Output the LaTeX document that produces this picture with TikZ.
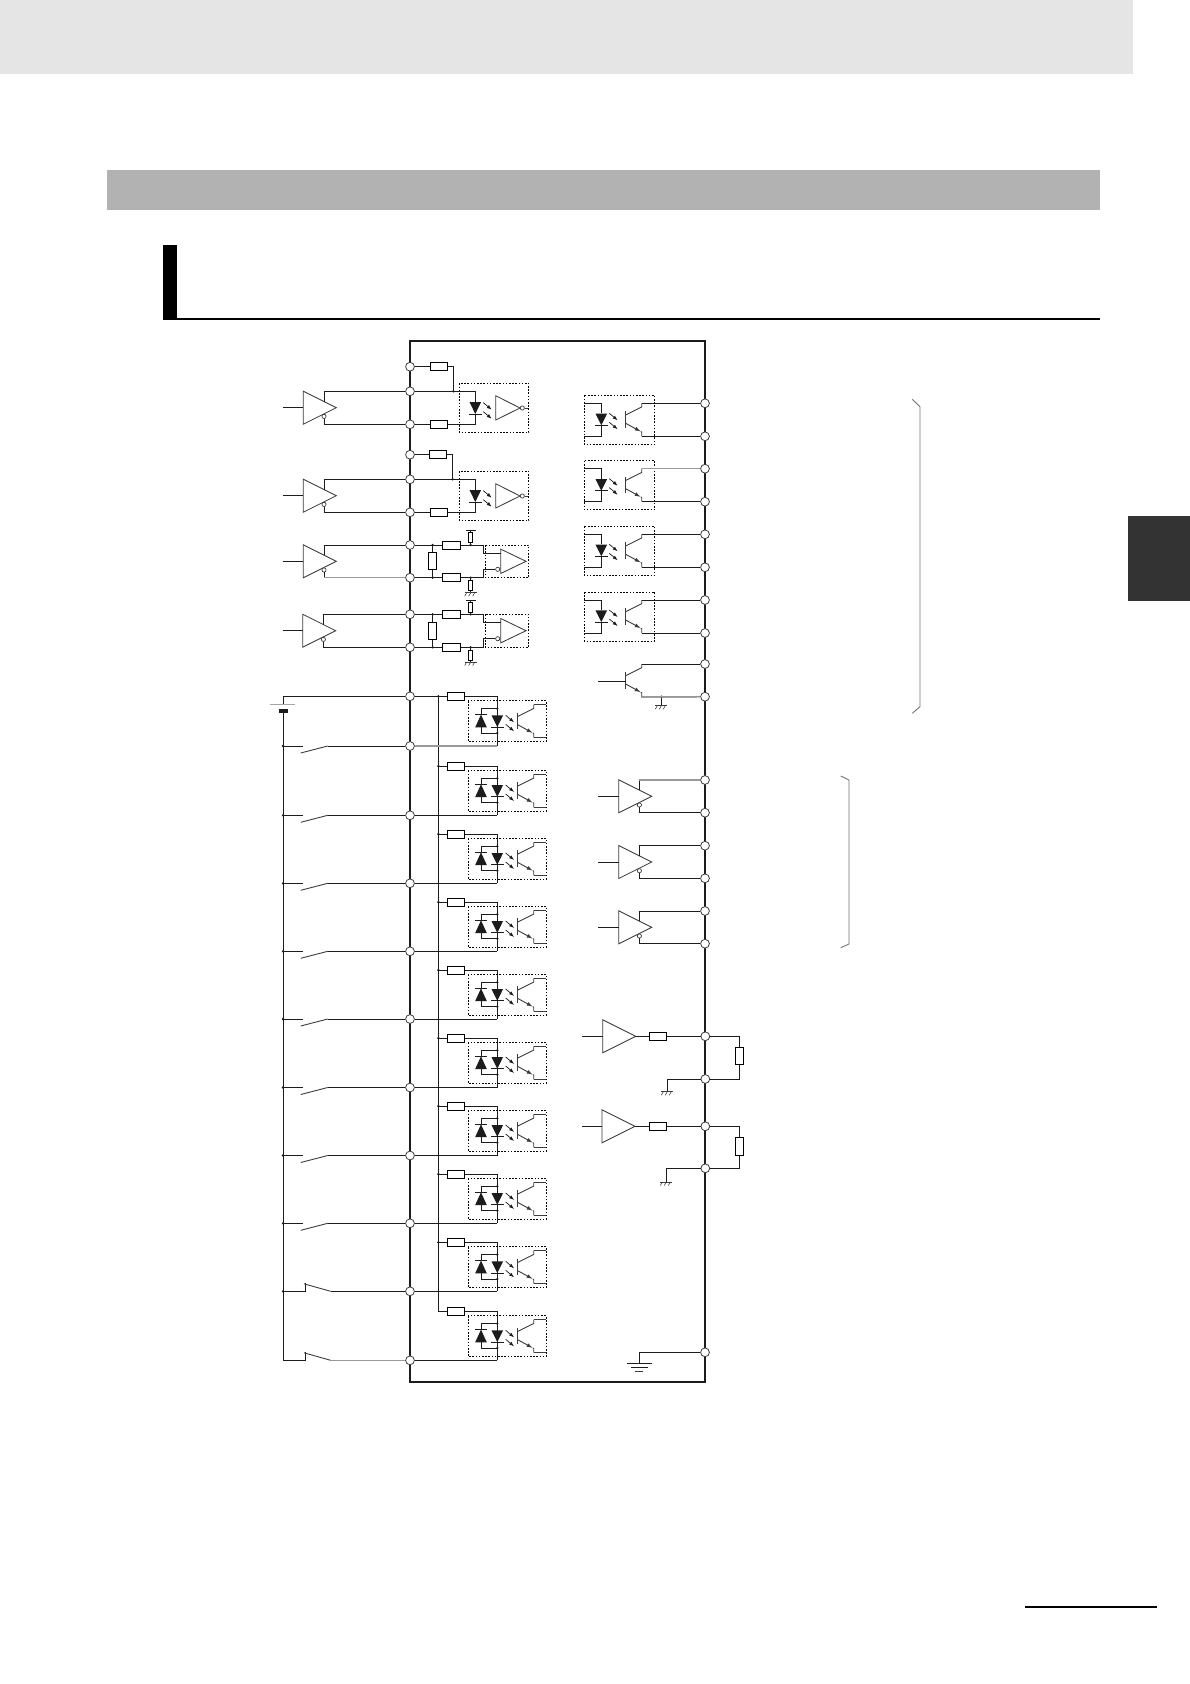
\documentclass[tikz,border=0pt]{standalone}
\usetikzlibrary{arrows.meta}
\definecolor{ink}{HTML}{1C1C1C}
\definecolor{thin}{HTML}{3C3C3C}
\tikzset{
  wire/.style={draw=ink,line width=1pt},
  gwire/.style={draw=black!40,line width=1.5pt},
  frame/.style={draw=ink,line width=2.4pt},
  term/.style={circle,draw=thin,fill=white,inner sep=0pt,minimum size=8.8pt,line width=.8pt},
  res/.style={rectangle,draw=black,fill=white,inner sep=0pt,minimum width=17.4pt,minimum height=8pt,line width=1pt},
  vres/.style={res,minimum width=7.7pt,minimum height=17pt},
  pres/.style={res,minimum width=4.5pt,minimum height=10pt},
  bub/.style={circle,draw=thin,fill=white,inner sep=0pt,minimum size=4.2pt,line width=.7pt},
  tri/.style={draw=thin,fill=white,line width=.85pt},
  opto/.style={draw=black,line width=.9pt,dash pattern=on 1.6pt off 1.6pt},
  dev/.style={draw=thin,line width=.9pt},
  ray/.style={draw=ink,line width=.7pt,-{Latex[length=5pt,width=3.6pt]}},
  brk/.style={draw=black!55,line width=.9pt},
}
\newcommand{\dotat}[2]{\fill[ink] (#1,#2) circle (1.3pt);}
\newcommand{\gndsym}[2]{%
  \draw[dev] (#1-6,#2) -- (#1+6,#2);
  \draw[dev,line width=.6pt] (#1-4,#2) -- (#1-6,#2+3.5) (#1,#2) -- (#1-2,#2+3.5) (#1+4,#2) -- (#1+2,#2+3.5);}
\newcommand{\ledD}[3]{% x, wide end, apex
  \fill[ink] (#1-5.8,#2) -- (#1+5.8,#2) -- (#1,#3) -- cycle;
  \draw[wire] (#1-6.2,#3) -- (#1+6.2,#3);}
\newcommand{\rays}[2]{%
  \draw[ray] (#1,#2) -- (#1+8.4,#2+7);
  \draw[ray] (#1,#2+9) -- (#1+8.4,#2+16);}
\newcommand{\npnsym}[3]{% name, bar x, top y
  \draw[dev] (#2,#3+8) -- (#2,#3+24.5);
  \coordinate (c#1) at (#2+16,#3);
  \coordinate (e#1) at (#2+16,#3+33);
  \draw[dev] (#2,#3+11.7) -- (#2+16,#3+3.7) -- (c#1);
  \draw[dev,-{Latex[length=6pt,width=4pt]}] (#2,#3+20) -- (#2+15,#3+28.2);
  \draw[dev] (#2+15,#3+28.2) -- (#2+16,#3+28.7) -- (e#1);}
\newcommand{\drvsym}[3]{% name, back x, centre y
  \draw[tri] (#2,#3-16.5) -- (#2+33,#3) -- (#2,#3+16.5) -- cycle;
  \coordinate (i#1) at (#2,#3);
  \coordinate (e#1) at (#2+20.7,#3-6.2);
  \node[bub] (b#1) at (#2+20.7,#3+8.7) {};}
\begin{document}
\begin{tikzpicture}[x=1pt,y=-1pt]
\useasboundingbox (0,0) rectangle (1190,1684);
\fill[white] (0,0) rectangle (1190,1684);
% page furniture
\fill[black!10] (0,0) rectangle (1133,73.5);
\fill[black!30] (107,170) rectangle (1100,209.7);
\fill[black] (163,245) rectangle (177,319.7);
\fill[black] (163,317.7) rectangle (1100,319.7);
\fill[black!80] (1128,516) rectangle (1190,601);
\fill[black] (1025,1605.7) rectangle (1157,1607.7);
% enclosure
\draw[frame] (410,341) rectangle (705,1381.7);
% ---------- left terminals, rows 1 and 2 (line receivers)
\foreach \n/\ya/\yb/\yc/\rx/\jx/\dy in {1/366.7/391.3/424.3/439/453.3/0, 2/454.7/479.3/512.3/438/452.7/88}{
  \node[term] (tA\n) at (410,\ya) {};
  \node[term] (tB\n) at (410,\yb) {};
  \node[term] (tC\n) at (410,\yc) {};
  \node[res] (rA\n) at (\rx,\ya) {};
  \node[res] (rC\n) at (439,\yc) {};
  \coordinate (jA\n) at (\jx,\yb);
  \coordinate (jT\n) at (475.3,\yb);
  \coordinate (jK\n) at (475.3,\yc);
  \draw[wire] (tA\n) -- (rA\n);
  \draw[wire] (rA\n) -| (jA\n);
  \draw[wire] (tB\n) -- (jA\n) -- (jT\n) -- (475.3,402+\dy);
  \draw[wire] (tC\n) -- (rC\n);
  \draw[wire] (rC\n) -- (jK\n) -- (475.3,414+\dy);
  \dotat{\jx}{\yb}
  \ledD{475.3}{402+\dy}{414+\dy}
  \rays{483.3}{402.7+\dy}
  \draw[opto] (459.3,383.3+\dy) rectangle (528.7,432.3+\dy);
  \draw[tri] (495.7,395.7+\dy) -- (520,408+\dy) -- (495.7,420+\dy) -- cycle;
  \node[bub] (iv\n) at (522.3,408+\dy) {};
  \coordinate (ivo\n) at (528,408+\dy);
  \draw[dev] (iv\n) -- (ivo\n);
}
% ---------- left terminals, rows 3 and 4 (differential receivers)
\foreach \n/\ya/\yb/\ym/\yu/\yv/\yp/\yg in {3/545/577.7/561.3/537.8/530.3/585.8/592.7, 4/614.3/647.3/630.7/607.5/600.3/655/662}{
  \node[term] (tB\n) at (410,\ya) {};
  \node[term] (tC\n) at (410,\yb) {};
  \node[vres] (sh\n) at (432.7,\ym) {};
  \node[res] (sa\n) at (451.3,\ya) {};
  \node[res] (sb\n) at (451.3,\yb) {};
  \node[pres] (pu\n) at (470.7,\yu) {};
  \node[pres] (pd\n) at (470.7,\yp) {};
  \coordinate (ja\n) at (432.7,\ya);
  \coordinate (jb\n) at (432.7,\yb);
  \coordinate (ju\n) at (470.7,\ya);
  \coordinate (jd\n) at (470.7,\yb);
  \coordinate (cu\n) at (470.7,\yv);
  \coordinate (cd\n) at (470.7,\yg);
  \draw[wire] (tB\n) -- (sa\n);
  \draw[wire] (tC\n) -- (sb\n);
  \draw[wire] (ja\n) -- (sh\n);
  \draw[wire] (jb\n) -- (sh\n);
  \draw[wire] (ju\n) -- (pu\n);
  \draw[wire] (pu\n) -- (cu\n);
  \draw[wire] (jd\n) -- (pd\n);
  \draw[wire] (pd\n) -- (cd\n);
  \draw[wire] (466,\yv) -- (475.7,\yv);
  \gndsym{470.7}{\yg}
  \dotat{432.7}{\ya}\dotat{432.7}{\yb}\dotat{470.7}{\ya}\dotat{470.7}{\yb}
  \draw[opto] (485.3,\ya) rectangle (528.7,\yb);
  \draw[tri] (500.7,\ym-12.2) -- (526,\ym) -- (500.7,\ym+12.2) -- cycle;
  \node[bub] (iv\n) at (497.7,\ym+8) {};
  \draw[wire] (sa\n) -- (483.3,\ya) -- (483.3,\ym-8) -- (500.7,\ym-8);
  \draw[wire] (sb\n) -- (483.3,\yb) -- (483.3,\ym+8) -- (iv\n);
}
% ---------- line drivers on the left
\foreach \n/\bx/\ym in {1/303.3/407.7, 2/303.3/495.7, 3/303.3/561.3, 4/302.7/630.7}{
  \drvsym{dL\n}{\bx}{\ym}
  \coordinate (sdL\n) at (282.7,\ym);
  \draw[wire] (sdL\n) -- (idL\n);
  \draw[wire] (tB\n) -| (edL\n);
  \draw[wire] (tC\n) -| (bdL\n);
}
% ---------- contact inputs
\node[term] (tS0) at (410,696.3) {};
\coordinate (railT) at (283.3,696.3);
\coordinate (batT) at (283.3,704.7);
\coordinate (batB) at (283.3,710.7);
\coordinate (railB) at (283.3,1360.3);
\draw[wire] (tS0) -- (railT) -- (batT);
\draw[black!35,line width=1.5pt] (270.3,704.7) -- (295,704.7);
\draw[ink,line width=4pt] (279,710.7) -- (287.5,710.7);
\draw[wire] (batB) -- (railB);
\coordinate (busT) at (438.3,696.3);
\coordinate (busB) at (438.3,1311.3);
\draw[wire] (tS0) -- (busT) -- (busB);
\foreach \n/\R/\S in {1/696.3/746, 2/766/815.3, 3/834/883.3, 4/902/951.3, 5/970/1019, 6/1038/1087.5, 7/1106/1155.5, 8/1174/1223.3, 9/1242.3/1291.3, 10/1311.3/1360.3}{
  \node[term] (tS\n) at (410,\S) {};
  \node[res] (rI\n) at (456.2,\R) {};
  \coordinate (jI\n) at (438.3,\R);
  \coordinate (jS\n) at (497.3,\S);
  \coordinate (jR\n) at (283.3,\S);
  \draw[wire] (jI\n) -- (rI\n);
  \draw[wire] (rI\n) -| (jS\n);
  \draw[wire] (tS\n) -- (jS\n);
  \draw[opto] (468.3,\R+4.6) rectangle (546.3,\R+45.3);
  \draw[wire] (481,\R+18.3) -- (481,\R+12.3) -- (497.3,\R+12.3);
  \draw[wire] (481,\R+31) -- (481,\R+36.7) -- (497.3,\R+36.7);
  \dotat{497.3}{\R+12.3}\dotat{497.3}{\R+36.7}
  \ledD{481}{\R+31}{\R+18.3}
  \ledD{497.3}{\R+19}{\R+30.7}
  \rays{505.7}{\R+19}
  \npnsym{qI\n}{517.7}{\R+8.4}
  \coordinate (kI\n) at (546.3,\R+8.4);
  \coordinate (mI\n) at (546.3,\R+41.4);
  \draw[dev] (cqI\n) -- (kI\n);
  \draw[dev] (eqI\n) -- (mI\n);
}
\foreach \R in {696.3,766,834,902,970,1038,1106,1174,1242.3}{\dotat{438.3}{\R}}
\foreach \n/\S in {1/746, 2/815.3, 3/883.3, 4/951.3, 5/1019, 6/1087.5, 7/1155.5, 8/1223.3}{
  \coordinate (sA\n) at (327.7,\S);
  \coordinate (sL\n) at (302.7,\S);
  \draw[wire] (jR\n) -- (sL\n);
  \draw[dev] (300.7,\S+7) -- (sA\n);
  \draw[wire] (sA\n) -- (tS\n);
  \dotat{283}{\S}
}
\foreach \n/\S in {9/1291.3, 10/1360.3}{
  \coordinate (sA\n) at (330.7,\S);
  \coordinate (sL\n) at (305,\S);
  \draw[wire] (jR\n) -- (sL\n) -- (305,\S-8);
  \draw[dev] (304,\S-7.5) -- (sA\n);
  \draw[wire] (sA\n) -- (tS\n);
}
\dotat{283}{1291.3}
% ---------- right side opto outputs
\foreach \n/\T/\U in {1/403.3/436.3, 2/468.7/501.7, 3/534.3/567.3, 4/600/633}{
  \node[term] (tP\n) at (705,\T) {};
  \node[term] (tQ\n) at (705,\U) {};
  \draw[opto] (584.3,\T-8) rectangle (654.7,\T+41);
  \coordinate (lA\n) at (584.3,\T);
  \coordinate (lB\n) at (584.3,\U);
  \draw[wire] (lA\n) -- (601.3,\T) -- (601.3,\T+10);
  \draw[wire] (lB\n) -- (601.3,\U) -- (601.3,\T+22);
  \ledD{601.3}{\T+10.4}{\T+22}
  \rays{609.3}{\T+10}
  \npnsym{qO\n}{625.7}{\T}
  \draw[wire] (cqO\n) -- (tP\n);
  \draw[wire] (eqO\n) -- (tQ\n);
}
% open collector
\node[term] (tP5) at (705,664) {};
\node[term] (tQ5) at (705,696.7) {};
\npnsym{qO5}{625.7}{664}
\coordinate (qOb) at (625.7,681.3);
\coordinate (qOs) at (598.3,681.3);
\draw[wire] (qOs) -- (qOb);
\draw[wire] (cqO5) -- (tP5);
\draw[wire] (eqO5) -- (tQ5);
\dotat{661.3}{696.7}
\draw[wire] (661.3,696.7) -- (661.3,705.7);
\gndsym{661.3}{705.7}
% bracket 1
\draw[brk] (912.3,399.3) -- (920,406.7) -- (920,706.7) -- (912.3,713.3);
% ---------- right side line drivers
\foreach \n/\T/\U/\ym in {1/780/812.7/796.3, 2/845.7/878.3/862, 3/911/943.7/927.3}{
  \node[term] (tU\n) at (705,\T) {};
  \node[term] (tV\n) at (705,\U) {};
  \drvsym{dR\n}{618.7}{\ym}
  \coordinate (sdR\n) at (598.3,\ym);
  \draw[wire] (sdR\n) -- (idR\n);
  \draw[wire] (tU\n) -| (edR\n);
  \draw[wire] (tV\n) -| (bdR\n);
}
% bracket 2
\draw[brk] (840.7,776) -- (849,780) -- (849,944) -- (840.7,947.7);
% ---------- analog outputs
\foreach \n/\bx/\Y/\Z/\lv/\gx/\gy in {1/602.7/1036.3/1079/1056/667.3/1091.7, 2/602/1126.3/1168.3/1146.5/666.3/1182}{
  \node[term] (tX\n) at (705.3,\Y) {};
  \node[term] (tY\n) at (705.3,\Z) {};
  \draw[tri] (\bx,\Y-16.5) -- (\bx+33,\Y) -- (\bx,\Y+16.5) -- cycle;
  \coordinate (aI\n) at (\bx,\Y);
  \coordinate (aO\n) at (\bx+33,\Y);
  \coordinate (aS\n) at (582.3,\Y);
  \draw[wire] (aS\n) -- (aI\n);
  \node[res] (rO\n) at (658,\Y) {};
  \node[res,minimum width=8pt,minimum height=17.6pt] (rL\n) at (739.7,\lv) {};
  \draw[wire] (aO\n) -- (rO\n);
  \draw[wire] (rO\n) -- (tX\n);
  \draw[wire] (tX\n) -| (rL\n);
  \draw[wire] (tY\n) -| (rL\n);
  \coordinate (gT\n) at (\gx,\gy);
  \draw[wire] (tY\n) -| (gT\n);
  \gndsym{\gx}{\gy}
}
% ---------- frame ground
\node[term] (tG) at (705,1352.3) {};
\coordinate (gG) at (639.3,1363.3);
\draw[wire] (tG) -| (gG);
\draw[wire] (627.3,1363.3) -- (651.7,1363.3);
\draw[wire] (631,1367.3) -- (647.7,1367.3);
\draw[dev] (635,1371.7) -- (643.3,1371.7);
% lighter, heavier wire runs seen in the reference
\draw[gwire] (tS1) -- (jS1);
\draw[gwire] (tC3) -- (323.9,577.7);
\draw[gwire] (tP2) -- (cqO2);
\draw[gwire] (tQ5) -- (eqO5);
\draw[gwire] (tU1) -- (639.4,780);
\draw[gwire] (tS10) -- (sA10);
\end{tikzpicture}
\end{document}
